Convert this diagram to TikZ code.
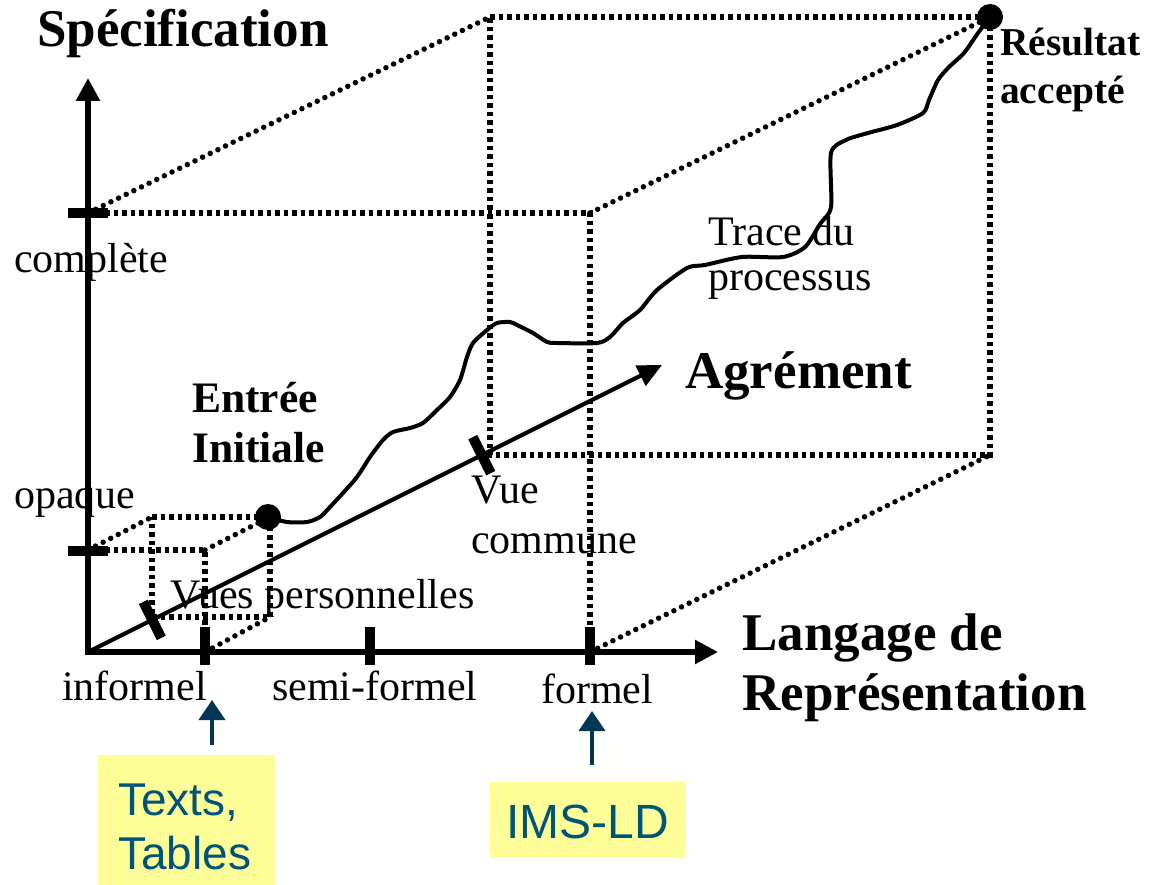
\documentclass[tikz,border=0pt]{standalone}
\usepackage{fontspec}
\setmainfont{Liberation Serif}
\newfontfamily\notesans{Liberation Sans}
\usetikzlibrary{arrows.meta,calc}

\definecolor{notefill}{RGB}{255,255,153}
\definecolor{noteink}{RGB}{0,84,120}
\definecolor{notearrow}{RGB}{0,56,84}

\begin{document}
\begin{tikzpicture}[x=1pt,y=-1pt,
  axis/.style={line width=5.5pt,-{Triangle[length=23pt,width=23pt]}},
  agraxis/.style={line width=4.2pt,-{Triangle[length=24pt,width=22pt]}},
  tickmark/.style={line width=10pt},
  cubeedge/.style={line width=5.5pt,dash pattern=on 4.5pt off 4pt},
  cubediag/.style={line width=5.5pt,line cap=round,dash pattern=on 0pt off 8.5pt},
  tracepath/.style={line width=4pt,line join=round},
  lbl/.style={inner sep=0pt,anchor=base west,font=\fontsize{42}{48}\selectfont},
  biglbl/.style={inner sep=0pt,anchor=base west,font=\fontsize{53}{60}\selectfont\bfseries},
  midlbl/.style={inner sep=0pt,anchor=base west,font=\fontsize{43.5}{48}\selectfont\bfseries},
  smalllbl/.style={inner sep=0pt,anchor=base west,font=\fontsize{39.5}{44}\selectfont\bfseries},
  notebox/.style={fill=notefill,inner sep=0pt},
  notetext/.style={inner sep=0pt,anchor=base west,text=noteink,font=\notesans\fontsize{46}{52}\selectfont},
  notearrow/.style={draw=notearrow,line width=4pt,-{Triangle[length=20pt,width=26pt]},color=notearrow},
  dot/.style={circle,fill=black,inner sep=0pt,minimum size=26pt}
]
\useasboundingbox (0,0) rectangle (1158,885);

% axes end points
\coordinate (O) at (88,652);
\coordinate (ytip) at (88,78);
\coordinate (xtip) at (718,652);
\coordinate (ztip) at (662,365);

% large box: front face, back face
\coordinate (F1) at (88,213);
\coordinate (F2) at (590,213);
\coordinate (F3) at (590,652);
\coordinate (B0) at (490,455);
\coordinate (B1) at (490,17);
\coordinate (B2) at (990,17);
\coordinate (B3) at (990,455);

% small box
\coordinate (f1) at (88,550);
\coordinate (f2) at (205,550);
\coordinate (f3) at (205,652);
\coordinate (b0) at (152,617);
\coordinate (b1) at (152,517);
\coordinate (b2) at (270,517);
\coordinate (b3) at (270,617);

% large box edges
\draw[cubeedge] (F1) -- (F2) -- (F3);
\draw[cubeedge] (B1) -- (B2) -- (B3) -- (B0) -- cycle;
\draw[cubediag] (F1) -- (B1);
\draw[cubediag] (F2) -- (B2);
\draw[cubediag] (F3) -- (B3);

% small box edges
\draw[cubeedge] (f1) -- (f2) -- (f3);
\draw[cubeedge] (b1) -- (b2) -- (b3) -- (b0) -- cycle;
\draw[cubediag] (f1) -- (b1);
\draw[cubediag] (f2) -- (b2);
\draw[cubediag] (f3) -- (b3);

% axes
\draw[axis] ([yshift=3pt]O) -- (ytip);
\draw[axis] ([xshift=-3pt]O) -- (xtip);
\draw[agraxis] (O) -- (ztip);

% tick marks
\draw[tickmark] (68,213) -- (108,213);
\draw[tickmark] (68,551) -- (108,551);
\draw[tickmark] (205,627) -- (205,665);
\draw[tickmark] (370,627) -- (370,665);
\draw[tickmark] (590,627) -- (590,665);
\coordinate (z1) at ($(O)!0.112!(ztip)$);
\coordinate (z2) at ($(O)!0.686!(ztip)$);
\draw[tickmark] ($(z1)+(-9,-18)$) -- ($(z1)+(9,18)$);
\draw[tickmark] ($(z2)+(-9,-18)$) -- ($(z2)+(9,18)$);

% process trace
\draw[tracepath] plot[smooth,tension=0.45] coordinates {
  (268,517) (287,522) (307,522) (320,517) (330,507) (343,493) (357,477)
  (370,457) (383,440) (393,432) (410,428) (423,423) (437,410) (450,397)
  (460,380) (467,357) (473,343) (487,330) (497,323) (510,322) (517,325)
  (533,333) (547,342) (557,343) (597,343) (610,337) (623,323) (640,310)
  (657,290) (687,268) (705,265) (742,257) (783,257) (805,247) (820,224)
  (831,207) (831,153) (846,140) (868,133) (897,125) (923,113) (929,100)
  (938,80) (949,67) (964,53) (978,33) (990,17)};

% start and end points
\node[dot] (start) at (268,517) {};
\node[dot] (finish) at (990,17) {};

% axis titles
\node[biglbl] (spec) at (37,47) {Spécification};
\node[biglbl] (agr) at (685,388) {Agrément};
\node[biglbl] (lang1) at (742,650) {Langage de};
\node[biglbl] (lang2) at (742,710) {Représentation};

% axis values
\node[lbl] (complete) at (14,272) {complète};
\node[lbl] (opaque) at (14,508) {opaque};
\node[lbl] (informel) at (62,700) {informel};
\node[lbl] (semiformel) at (272,700) {semi-formel};
\node[lbl] (formel) at (541,703) {formel};
\node[lbl] (vues) at (170,608) {Vues personnelles};
\node[lbl] (vue1) at (471,503) {Vue};
\node[lbl] (vue2) at (471,553) {commune};
\node[lbl] (trace1) at (708,245) {Trace du};
\node[lbl] (trace2) at (708,290) {processus};

% endpoints of the process
\node[midlbl] (entree1) at (192,412) {Entrée};
\node[midlbl] (entree2) at (192,462) {Initiale};
\node[smalllbl] (res1) at (1000,56) {Résultat};
\node[smalllbl] (res2) at (1000,104) {accepté};

% notes
\node[notebox,minimum width=177pt,minimum height=130pt] (tbox) at (186.5,820) {};
\node[notetext] (tt1) at (118,815) {Texts,};
\node[notetext] (tt2) at (118,869) {Tables};
\node[notebox,minimum width=195pt,minimum height=76pt] (ibox) at (587.5,820) {};
\node[notetext,anchor=center,font=\notesans\fontsize{48}{54}\selectfont] (it) at (587.5,822) {IMS-LD};

\coordinate (ta0) at (212,745);
\coordinate (ta1) at (212,700);
\coordinate (ia0) at (592,765);
\coordinate (ia1) at (592,711);
\draw[notearrow] (ta0) -- (ta1);
\draw[notearrow] (ia0) -- (ia1);
\end{tikzpicture}
\end{document}
